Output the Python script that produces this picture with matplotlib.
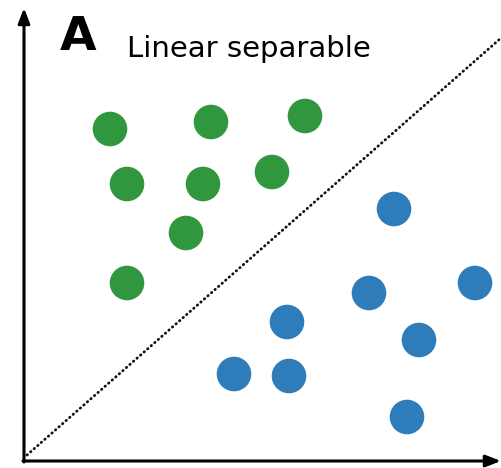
import matplotlib.pyplot as plt

# points, measured from the axis corner (x right, y up)
green_x = [86, 187, 281, 103, 179, 248, 162, 103]
green_y = [332, 339, 345, 277, 277, 289, 228, 178]
blue_x = [370, 345, 451, 263, 395, 210, 265, 383]
blue_y = [252, 168, 178, 139, 121, 87, 85, 44]

# separating line end points
line_x = [3, 477]
line_y = [6, 423]

fig = plt.figure(figsize=(5.01, 4.68), dpi=100)
ax = fig.add_axes([0, 0, 1, 1])
ax.set_xlim(-24, 477)
ax.set_ylim(-7, 461)
ax.axis('off')

# axes with arrows
arrow = dict(arrowstyle='-|>,head_length=0.9,head_width=0.35', color='black',
             lw=2.2, shrinkA=0, shrinkB=0)
ax.annotate('', xy=(477, 0), xytext=(-1, 0), arrowprops=arrow)
ax.annotate('', xy=(0, 453), xytext=(0, -1), arrowprops=arrow)

ax.plot(line_x, line_y, color='#111111', lw=2.0,
        linestyle=(0, (0.2, 1.5)), dash_capstyle='round')

ax.scatter(green_x, green_y, s=620, color='#31973f', edgecolors='none', zorder=3)
ax.scatter(blue_x, blue_y, s=620, color='#2e7dba', edgecolors='none', zorder=3)

fig.text(60 / 501, 1 - 50 / 468, 'A', fontsize=34, fontweight='bold',
         ha='left', va='baseline')
fig.text(127 / 501, 1 - 57 / 468, 'Linear separable', fontsize=21,
         ha='left', va='baseline')

plt.savefig('out.png', dpi=100)
